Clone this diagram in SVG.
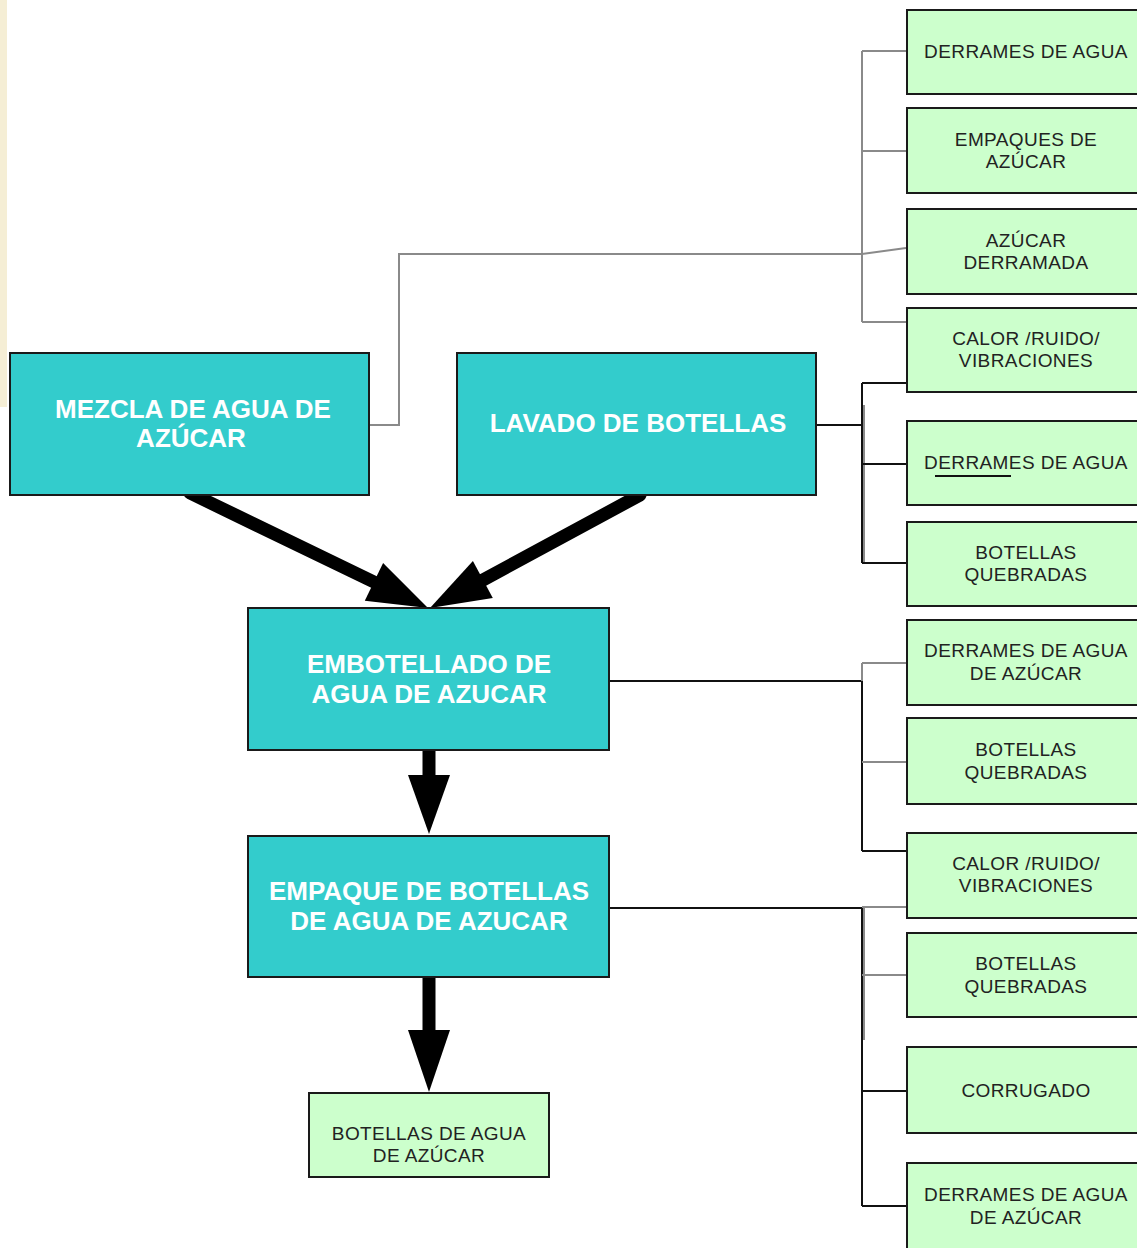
<svg xmlns="http://www.w3.org/2000/svg" width="1137" height="1248" viewBox="0 0 1137 1248">
<style>
.main rect{fill:#33cccc;stroke:#1a1a1a;stroke-width:2}
.main text{font-family:"Liberation Sans",Arial,sans-serif;font-weight:bold;font-size:26px;fill:#fff;text-anchor:middle}
.out rect{fill:#ccffcc;stroke:#1a1a1a;stroke-width:2}
.out text{font-family:"Liberation Sans",Arial,sans-serif;font-size:19px;letter-spacing:0.4px;fill:#222;text-anchor:middle}
.g{fill:none;stroke:#8a8a8a;stroke-width:2}
.k{fill:none;stroke:#111;stroke-width:2}
.shaft{stroke:#000;stroke-width:13;stroke-linecap:round;fill:none}
.head{fill:#000}
</style>
<rect x="0" y="0" width="7" height="407" fill="#f5eed5"/>

<g id="connectors">
  <polyline class="g" points="369,425 399,425 399,254 862,254 906,248"/>
  <line class="g" x1="862" y1="51" x2="862" y2="322"/>
  <line class="g" x1="862" y1="51" x2="907" y2="51"/>
  <line class="g" x1="862" y1="151" x2="907" y2="151"/>
  <line class="g" x1="862" y1="322" x2="907" y2="322"/>

  <line class="k" x1="816" y1="425" x2="862" y2="425"/>
  <line class="g" x1="864" y1="405" x2="864" y2="563"/>
  <line class="k" x1="862" y1="383" x2="862" y2="563"/>
  <line class="k" x1="862" y1="383" x2="907" y2="383"/>
  <line class="k" x1="862" y1="464" x2="907" y2="464"/>
  <line class="k" x1="862" y1="563" x2="907" y2="563"/>

  <line class="k" x1="609" y1="681" x2="862" y2="681"/>
  <line class="g" x1="862" y1="663" x2="862" y2="681"/>
  <line class="k" x1="862" y1="681" x2="862" y2="851"/>
  <line class="g" x1="862" y1="663" x2="907" y2="663"/>
  <line class="g" x1="862" y1="762" x2="907" y2="762"/>
  <line class="k" x1="862" y1="851" x2="907" y2="851"/>

  <line class="k" x1="609" y1="908" x2="862" y2="908"/>
  <line class="g" x1="864" y1="908" x2="864" y2="1040"/>
  <line class="k" x1="862" y1="908" x2="862" y2="1206"/>
  <line class="g" x1="862" y1="907" x2="907" y2="907"/>
  <line class="g" x1="862" y1="975" x2="907" y2="975"/>
  <line class="k" x1="862" y1="1091" x2="907" y2="1091"/>
  <line class="k" x1="862" y1="1206" x2="907" y2="1206"/>

  <line class="shaft" x1="190" y1="493" x2="374" y2="582"/>
  <polygon class="head" points="428,608 364.8,600.8 383.1,563"/>
  <line class="shaft" x1="640" y1="495" x2="483" y2="580"/>
  <polygon class="head" points="430,608 492.8,598 472.9,561"/>
  <line class="shaft" x1="429" y1="751" x2="429" y2="778"/>
  <polygon class="head" points="408,775 450,775 429,834"/>
  <line class="shaft" x1="429" y1="978" x2="429" y2="1033"/>
  <polygon class="head" points="408,1030 450,1030 429,1092"/>
</g>

<g id="n-mezcla" class="main"><rect x="10" y="353" width="359" height="142"/><text x="193" y="418">MEZCLA DE AGUA DE</text><text x="191" y="447">AZÚCAR</text></g>
<g id="n-lavado" class="main"><rect x="457" y="353" width="359" height="142"/><text x="638" y="432">LAVADO DE BOTELLAS</text></g>
<g id="n-embotellado" class="main"><rect x="248" y="608" width="361" height="142"/><text x="429" y="673">EMBOTELLADO DE</text><text x="429" y="703">AGUA DE AZUCAR</text></g>
<g id="n-empaque" class="main"><rect x="248" y="836" width="361" height="141"/><text x="429" y="900">EMPAQUE DE BOTELLAS</text><text x="429" y="930">DE AGUA DE AZUCAR</text></g>
<g id="n-producto" class="out"><rect x="309" y="1093" width="240" height="84"/><text x="429" y="1140">BOTELLAS DE AGUA</text><text x="429" y="1162">DE AZÚCAR</text></g>

<g id="o1" class="out"><rect x="907" y="10" width="240" height="84"/><text x="1026" y="58">DERRAMES DE AGUA</text></g>
<g id="o2" class="out"><rect x="907" y="108" width="240" height="85"/><text x="1026" y="146">EMPAQUES DE</text><text x="1026" y="168">AZÚCAR</text></g>
<g id="o3" class="out"><rect x="907" y="209" width="240" height="85"/><text x="1026" y="247">AZÚCAR</text><text x="1026" y="269">DERRAMADA</text></g>
<g id="o4" class="out"><rect x="907" y="308" width="240" height="84"/><text x="1026" y="345">CALOR /RUIDO/</text><text x="1026" y="367">VIBRACIONES</text></g>
<g id="o5" class="out"><rect x="907" y="421" width="240" height="84"/><text x="1026" y="469">DERRAMES DE AGUA</text><line x1="935" y1="476" x2="1011" y2="476" stroke="#111" stroke-width="2"/></g>
<g id="o6" class="out"><rect x="907" y="522" width="240" height="84"/><text x="1026" y="559">BOTELLAS</text><text x="1026" y="581">QUEBRADAS</text></g>
<g id="o7" class="out"><rect x="907" y="620" width="240" height="85"/><text x="1026" y="657">DERRAMES DE AGUA</text><text x="1026" y="680">DE AZÚCAR</text></g>
<g id="o8" class="out"><rect x="907" y="718" width="240" height="86"/><text x="1026" y="756">BOTELLAS</text><text x="1026" y="779">QUEBRADAS</text></g>
<g id="o9" class="out"><rect x="907" y="833" width="240" height="85"/><text x="1026" y="870">CALOR /RUIDO/</text><text x="1026" y="892">VIBRACIONES</text></g>
<g id="o10" class="out"><rect x="907" y="933" width="240" height="84"/><text x="1026" y="970">BOTELLAS</text><text x="1026" y="993">QUEBRADAS</text></g>
<g id="o11" class="out"><rect x="907" y="1047" width="240" height="86"/><text x="1026" y="1097">CORRUGADO</text></g>
<g id="o12" class="out"><rect x="907" y="1163" width="240" height="100"/><text x="1026" y="1201">DERRAMES DE AGUA</text><text x="1026" y="1224">DE AZÚCAR</text></g>
</svg>
